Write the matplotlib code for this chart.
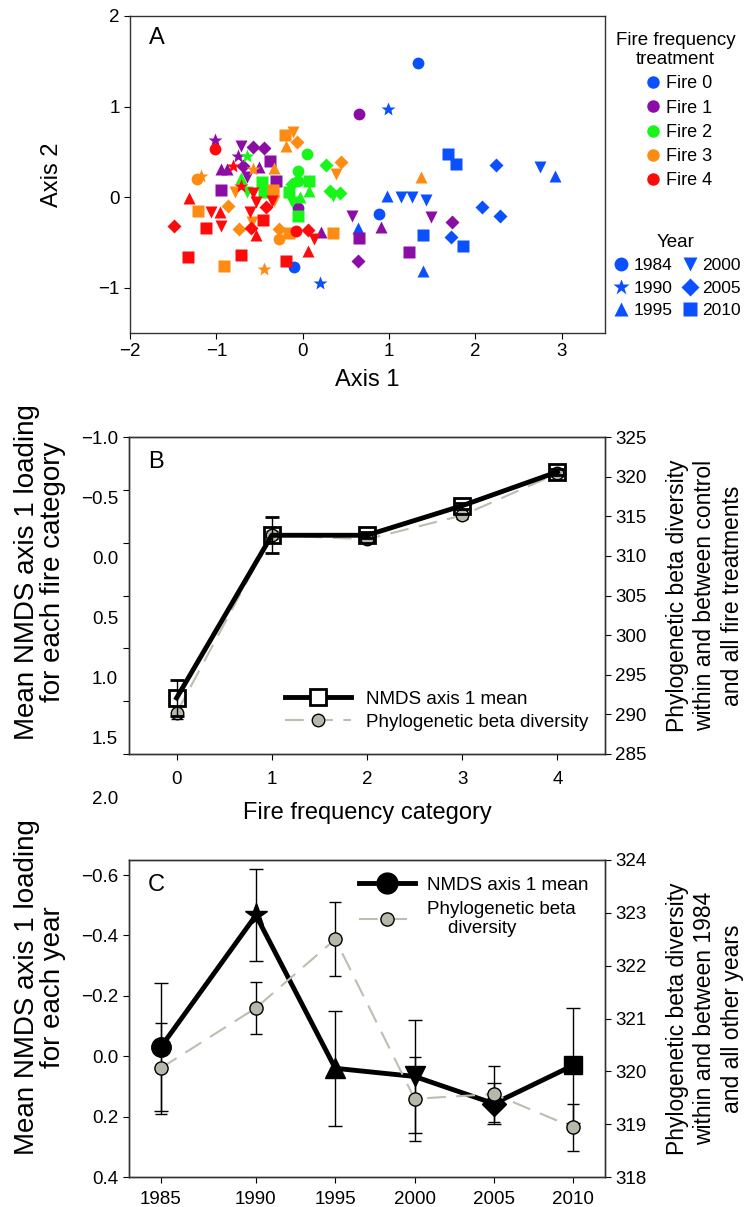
import numpy as np
import matplotlib.pyplot as plt
from matplotlib.lines import Line2D

plt.rcParams['font.family'] = ['Liberation Sans', 'DejaVu Sans']
plt.rcParams['xtick.direction'] = 'out'
plt.rcParams['ytick.direction'] = 'out'

# ---- panel A data: NMDS scores per fire treatment, tagged by survey year
years = ['1984', '1990', '1995', '2000', '2005', '2010']
year_marker = {'1984': 'o', '1990': '*', '1995': '^', '2000': 'v', '2005': 'D', '2010': 's'}
year_ms = {'1984': 8.5, '1990': 10.5, '1995': 9, '2000': 9, '2005': 7.5, '2010': 8}
fire_names = ['Fire 0', 'Fire 1', 'Fire 2', 'Fire 3', 'Fire 4']
fire_colors = ['#0a50ff', '#8c0ca6', '#18f518', '#ff8c12', '#ff0a0a']

fire0 = {
    '1984': [(1.33, 1.48), (0.88, -0.19), (-0.10, -0.77)],
    '1990': [(0.99, 0.97), (0.20, -0.95)],
    '1995': [(0.98, 0.01), (0.64, -0.34), (1.39, -0.81), (2.92, 0.23)],
    '2000': [(1.14, 0.0), (1.27, 0.0), (1.43, -0.03), (2.75, 0.33)],
    '2005': [(2.24, 0.35), (2.07, -0.11), (2.28, -0.21), (1.72, -0.44)],
    '2010': [(1.68, 0.48), (1.78, 0.37), (1.39, -0.42), (1.86, -0.54)],
}
fire1 = {
    '1984': [(0.65, 0.92), (-0.05, -0.12)],
    '1990': [(-1.02, 0.63), (-0.75, 0.45)],
    '1995': [(0.91, -0.33), (-0.95, 0.31), (-0.88, 0.31), (-0.51, 0.33), (0.21, -0.39)],
    '2000': [(0.57, -0.21), (1.48, -0.22), (-0.71, 0.56), (-0.64, 0.22)],
    '2005': [(1.73, -0.27), (0.64, -0.71), (-0.58, 0.55), (-0.45, 0.54), (-0.69, 0.34)],
    '2010': [(0.65, -0.45), (1.23, -0.61), (-0.38, 0.40), (-0.95, 0.08), (-0.31, 0.18)],
}
fire2 = {
    '1984': [(0.05, 0.48), (-0.06, 0.29), (-0.05, 0.18)],
    '1990': [(-0.65, 0.45)],
    '1995': [(-0.71, 0.21), (0.07, 0.07), (-0.03, 0.0)],
    '2000': [(-0.65, 0.06), (-0.13, -0.05), (0.35, 0.01)],
    '2005': [(0.27, 0.35), (0.43, 0.05), (0.31, 0.07), (-0.12, 0.14)],
    '2010': [(-0.47, 0.17), (0.07, 0.18), (-0.16, 0.06), (-0.05, -0.21), (-0.45, 0.06)],
}
fire3 = {
    '1984': [(-1.22, 0.20), (-0.27, -0.46), (-0.35, 0.07)],
    '1990': [(-1.18, 0.23), (-0.45, -0.79), (-0.58, 0.31)],
    '1995': [(1.37, 0.22), (-0.19, 0.57), (-0.33, 0.32)],
    '2000': [(-0.11, 0.72), (0.39, 0.25), (-0.79, 0.06), (-0.59, -0.27), (-0.33, -0.04)],
    '2005': [(0.44, 0.39), (-0.07, 0.61), (-0.87, -0.10), (-0.74, -0.35), (-0.27, -0.35)],
    '2010': [(-0.21, 0.69), (-1.21, -0.15), (-0.91, -0.76), (-0.16, -0.40), (0.35, -0.40), (-0.35, 0.08)],
}
fire4 = {
    '1984': [(-1.02, 0.53), (-0.08, -0.37)],
    '1990': [(-0.81, 0.34), (-0.72, 0.12)],
    '1995': [(-1.32, -0.01), (-0.96, -0.16), (-0.54, -0.42), (0.06, -0.59)],
    '2000': [(-1.06, -0.16), (-0.95, -0.32), (-0.61, -0.16), (-0.54, -0.05), (-0.36, -0.04),
             (0.13, -0.46), (-0.58, 0.05)],
    '2005': [(-1.49, -0.32), (-0.42, -0.11), (-0.60, -0.34), (0.06, -0.36)],
    '2010': [(-1.33, -0.66), (-1.12, -0.34), (-0.72, -0.64), (-0.46, -0.25), (-0.19, -0.71)],
}
fires = [fire0, fire1, fire2, fire3, fire4]

# ---- panel B data: by fire frequency category
fire_cat = [0, 1, 2, 3, 4]
nmds_fire = [1.47, -0.07, -0.07, -0.35, -0.67]
nmds_fire_err = [0.17, 0.17, 0.03, 0.03, 0.03]
phylo_fire = [290.2, 312.6, 312.1, 315.1, 320.4]
phylo_fire_err = [0.8, 0.5, 0.4, 0.4, 0.4]
b_left_labels = ['\u22121.0', '\u22120.5', '0.0', '0.5', '1.0', '1.5', '2.0']

# ---- panel C data: by year
yr = [1984, 1990, 1995, 2000, 2005, 2010]
yr_labels = ['1985', '1990', '1995', '2000', '2005', '2010']
nmds_year = [-0.03, -0.467, 0.04, 0.067, 0.157, 0.03]
nmds_year_err = [0.213, 0.153, 0.19, 0.187, 0.067, 0.19]
phylo_year = [320.06, 321.2, 322.5, 319.48, 319.57, 318.94]
phylo_year_err = [0.86, 0.5, 0.7, 0.8, 0.53, 0.45]

W, H = 749, 1207
fig = plt.figure(figsize=(W / 100, H / 100), dpi=100)


def box(l, r, t, b):
    return [l / W, 1 - b / H, (r - l) / W, (b - t) / H]


TICK = 13.5
LEFT_LAB = 20
RIGHT_LAB = 16.5

# =================== A
axA = fig.add_axes(box(130, 605, 16, 333))
for fi, fd in enumerate(fires):
    for y in years:
        pts = np.array(fd[y])
        axA.plot(pts[:, 0], pts[:, 1], ls='none', marker=year_marker[y], ms=year_ms[y],
                 color=fire_colors[fi], mec='none')
axA.set_xlim(-2, 3.5)
axA.set_ylim(-1.5, 2)
axA.set_xticks([-2, -1, 0, 1, 2, 3])
axA.set_yticks([-1, 0, 1, 2])
axA.set_xticklabels(['\u22122', '\u22121', '0', '1', '2', '3'])
axA.set_yticklabels(['\u22121', '0', '1', '2'])
axA.tick_params(labelsize=TICK, length=4)
axA.set_xlabel('Axis 1', fontsize=17, labelpad=6)
axA.set_ylabel('Axis 2', fontsize=17)
axA.yaxis.set_label_coords(-0.14, 0.5)
axA.text(0.04, 0.93, 'A', transform=axA.transAxes, fontsize=17, va='center')

fire_handles = [Line2D([], [], ls='none', marker='o', ms=9, color=c, mec='none') for c in fire_colors]
leg1 = axA.legend(fire_handles, fire_names, title='Fire frequency\ntreatment',
                  loc='upper left', bbox_to_anchor=(1.0, 0.985), frameon=False,
                  fontsize=13, title_fontsize=13.5, handletextpad=0.0, labelspacing=0.4,
                  handlelength=1.5, borderaxespad=0.2)
leg1.get_title().set_multialignment('center')
axA.add_artist(leg1)
year_handles = [Line2D([], [], ls='none', marker=year_marker[y], ms=year_ms[y] + 1.5,
                       color=fire_colors[0], mec='none') for y in years]
leg2 = axA.legend(year_handles, years, title='Year', loc='upper left', bbox_to_anchor=(0.99, 0.345),
                  frameon=False, fontsize=12.5, title_fontsize=13.5, ncol=2, handletextpad=0.1,
                  labelspacing=0.42, handlelength=1.2, columnspacing=0.4, borderaxespad=0.2)

# =================== B
axB = fig.add_axes(box(129, 605, 437, 754))
axB2 = axB.twinx()
axB.set_zorder(axB2.get_zorder() + 1)
axB.patch.set_visible(False)

axB2.errorbar(fire_cat, phylo_fire, yerr=phylo_fire_err, color='#bdbdb0', lw=1.5, dashes=(9, 5),
              marker='o', ms=9, mfc='#b8b8aa', mec='black', mew=1, ecolor='black', elinewidth=1,
              capsize=4)
axB.errorbar(fire_cat, nmds_fire, yerr=nmds_fire_err, color='black', lw=3.5, marker='s', ms=12,
             mfc='none', mec='black', mew=2, ecolor='black', elinewidth=1, capsize=5)
axB.set_xlim(-0.5, 4.5)
axB.set_ylim(2.0, -1.0)
axB.set_yticks(np.arange(-1.0, 2.01, 0.5))
axB.set_yticklabels([])
axB.set_xticks(fire_cat)
axB.tick_params(labelsize=TICK, length=4)
axB.tick_params(axis='x', pad=8)
for i, lab in enumerate(b_left_labels):
    axB.text(-0.023, 1 - (3 + 60 * i) / 317, lab, transform=axB.transAxes, ha='right', va='center',
             fontsize=TICK)
axB2.set_ylim(285, 325)
axB2.set_yticks(np.arange(285, 326, 5))
axB2.tick_params(labelsize=TICK, length=4)
axB.set_xlabel('Fire frequency category', fontsize=17)
axB.xaxis.set_label_coords(0.5, -0.15)
axB.set_ylabel('Mean NMDS axis 1 loading\nfor each fire category', fontsize=LEFT_LAB, linespacing=1.0)
axB.yaxis.set_label_coords(-0.132, 0.575)
axB2.set_ylabel('Phylogenetic beta diversity\nwithin and between control\nand all fire treatments',
                fontsize=RIGHT_LAB, linespacing=1.25, rotation=90)
axB2.yaxis.set_label_coords(1.128, 0.5)
axB.text(0.04, 0.92, 'B', transform=axB.transAxes, fontsize=17, va='center')
hB = [Line2D([], [], color='black', lw=3.5, marker='s', ms=12, mfc='white', mec='black', mew=2),
      Line2D([], [], color='#bdbdb0', lw=1.5, dashes=(9, 5), marker='o', ms=9, mfc='#b8b8aa',
             mec='black', mew=1)]
axB.legend(hB, ['NMDS axis 1 mean', 'Phylogenetic beta diversity'], loc='lower right',
           bbox_to_anchor=(1.0, 0.02), frameon=False, fontsize=13.5, handlelength=3.5,
           handletextpad=0.8, labelspacing=0.3)

# =================== C
axC = fig.add_axes(box(129, 605, 860, 1177))
axC2 = axC.twinx()
axC.errorbar(yr, nmds_year, yerr=nmds_year_err, color='black', lw=3.5, ecolor='black', elinewidth=1,
             capsize=5, zorder=2)
for i, y in enumerate(years):
    axC.plot(yr[i], nmds_year[i], ls='none', marker=year_marker[y], ms=year_ms[y] * 1.65,
             color='black', zorder=3)
axC2.errorbar(yr, phylo_year, yerr=phylo_year_err, color='#bdbdb0', lw=1.5, dashes=(9, 5),
              marker='o', ms=9.5, mfc='#b8b8aa', mec='black', mew=1, ecolor='black', elinewidth=1,
              capsize=4)
axC.set_xlim(1982, 2012)
axC.set_xticks(yr)
axC.set_xticklabels(yr_labels)
axC.set_ylim(0.4, -0.65)
axC.set_yticks([-0.6, -0.4, -0.2, 0.0, 0.2, 0.4])
axC.set_yticklabels(['\u22120.6', '\u22120.4', '\u22120.2', '0.0', '0.2', '0.4'])
axC.tick_params(labelsize=TICK, length=4)
axC.tick_params(axis='x', pad=6)
axC2.set_ylim(318, 324)
axC2.set_yticks(np.arange(318, 325, 1))
axC2.tick_params(labelsize=TICK, length=4)
axC.set_ylabel('Mean NMDS axis 1 loading\nfor each year', fontsize=LEFT_LAB, linespacing=1.0)
axC.yaxis.set_label_coords(-0.132, 0.6)
axC2.set_ylabel('Phylogenetic beta diversity\nwithin and between 1984\nand all other years',
                fontsize=RIGHT_LAB, linespacing=1.25)
axC2.yaxis.set_label_coords(1.128, 0.5)
axC.text(0.04, 0.92, 'C', transform=axC.transAxes, fontsize=17, va='center')
hC = [Line2D([], [], color='black', lw=3.5, marker='o', ms=15, mfc='black', mec='black'),
      Line2D([], [], color='#bdbdb0', lw=1.5, dashes=(9, 5), marker='o', ms=9.5, mfc='#b8b8aa',
             mec='black', mew=1)]
axC2.legend(hC, ['NMDS axis 1 mean', 'Phylogenetic beta\n    diversity'], loc='upper right',
            bbox_to_anchor=(1.0, 1.0), frameon=False, fontsize=13.5, handlelength=3.0,
            handletextpad=0.6, labelspacing=0.35)

for ax in [axA, axB, axB2, axC, axC2]:
    for s in ax.spines.values():
        s.set_color('#333333')
        s.set_linewidth(1)

fig.savefig('out.png', dpi=100)
